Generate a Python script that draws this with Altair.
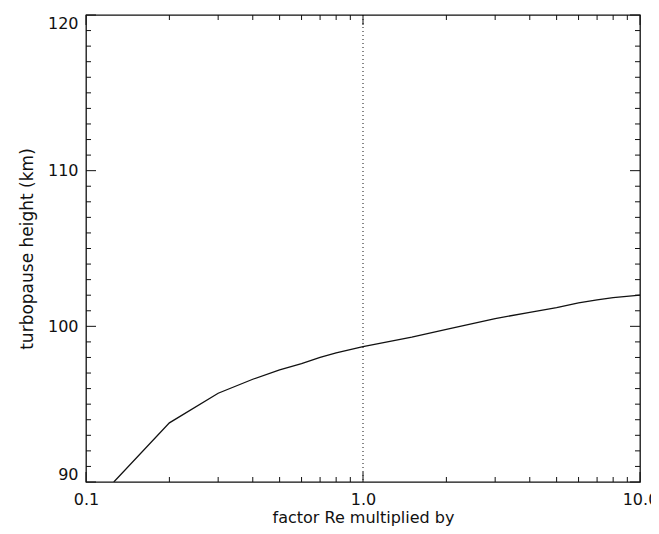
import altair as alt
import pandas as pd

# curve values
factor = [0.126, 0.2, 0.3, 0.4, 0.5, 0.6, 0.7, 0.8, 1.0, 1.5, 2.0, 3.0, 4.0, 5.0, 6.0, 7.0, 8.0, 10.0]
height = [90.0, 93.8, 95.7, 96.6, 97.2, 97.6, 98.0, 98.3, 98.7, 99.3, 99.8, 100.5, 100.9, 101.2, 101.5, 101.7, 101.85, 102.0]

ref_factor = [1.0]

x_major = [0.1, 1.0, 10.0]
x_minor = [0.2, 0.3, 0.4, 0.5, 0.6, 0.7, 0.8, 0.9, 2, 3, 4, 5, 6, 7, 8, 9]
y_major = [90, 100, 110, 120]
y_minor = [v for v in range(90, 121) if v % 10 != 0]

W, H = 554, 467
FONT = "DejaVu Sans"
INK = "#111111"

xs = alt.Scale(type="log", domain=[0.1, 10], nice=False)
ys = alt.Scale(domain=[90, 120], nice=False, zero=False)

xaxis = alt.Axis(values=x_major, format=".1f", ticks=False, domain=False, grid=False,
                 labelFont=FONT, labelFontSize=16, labelColor=INK, labelPadding=9,
                 title="factor Re multiplied by", titleFont=FONT, titleFontSize=16,
                 titleFontWeight="normal", titleColor=INK, titlePadding=2,
                 labelFlush=False)
yaxis = alt.Axis(values=y_major, format="d", ticks=False, domain=False, grid=False,
                 labelFont=FONT, labelFontSize=16, labelColor=INK, labelPadding=8,
                 title="turbopause height (km)", titleFont=FONT, titleFontSize=17,
                 titleFontWeight="normal", titleColor=INK, titlePadding=11,
                 labelFlush=True)

def X(field):
    return alt.X(field, type="quantitative", scale=xs, axis=xaxis)

def Y(field):
    return alt.Y(field, type="quantitative", scale=ys, axis=yaxis)

curve = pd.DataFrame({"factor": factor, "height": height})

line = alt.Chart(curve).mark_line(color=INK, strokeWidth=1.3, clip=True).encode(
    x=X("factor"), y=Y("height"))

ref = alt.Chart(pd.DataFrame({"factor": ref_factor})).mark_rule(
    color=INK, strokeWidth=1, strokeDash=[1, 3]
).encode(x=X("factor"))

def yticks(vals, L):
    d = pd.DataFrame({"height": vals})
    left = alt.Chart(d).mark_rule(color=INK, strokeWidth=1).encode(
        y=Y("height"), x=alt.value(0), x2=alt.value(L))
    right = alt.Chart(d).mark_rule(color=INK, strokeWidth=1).encode(
        y=Y("height"), x=alt.value(W - L), x2=alt.value(W))
    return [left, right]

def xticks(vals, L):
    d = pd.DataFrame({"factor": vals})
    bottom = alt.Chart(d).mark_rule(color=INK, strokeWidth=1).encode(
        x=X("factor"), y=alt.value(H - L), y2=alt.value(H))
    top = alt.Chart(d).mark_rule(color=INK, strokeWidth=1).encode(
        x=X("factor"), y=alt.value(0), y2=alt.value(L))
    return [bottom, top]

layers = [line, ref] + yticks(y_major, 10) + yticks(y_minor, 5) + xticks(x_major, 10) + xticks(x_minor, 5)

chart = alt.layer(*layers).properties(
    width=W, height=H,
    padding={"left": 78, "top": 7, "right": 11, "bottom": 44},
    autosize=alt.AutoSizeParams(type="none"),
    background="white",
).configure_view(stroke=INK, strokeWidth=1.3)

chart.save("out.html", embed_options={"renderer": "svg", "actions": False})
